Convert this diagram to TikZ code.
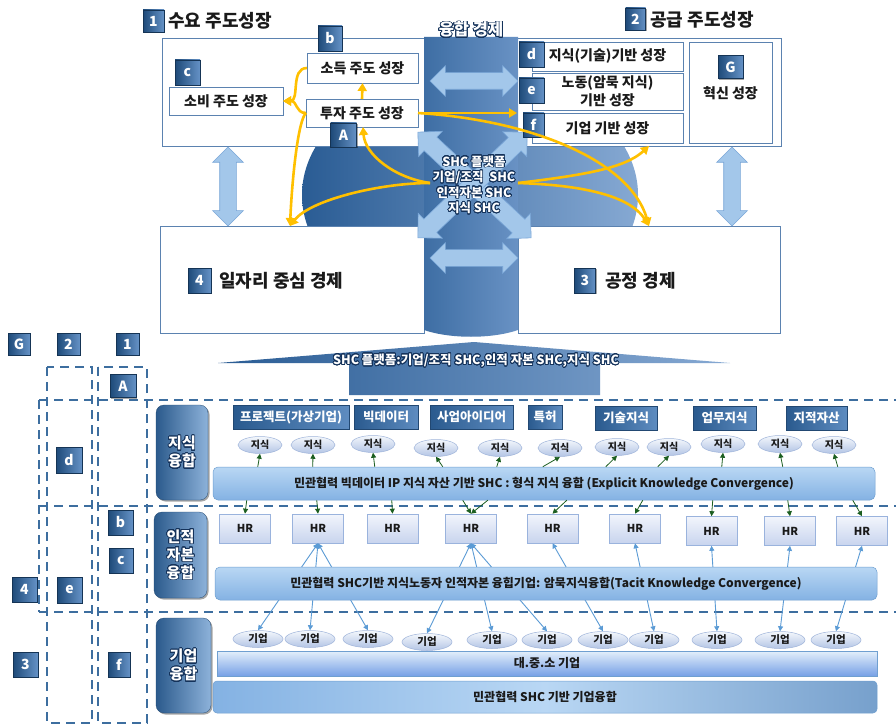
\documentclass[tikz,border=0pt]{standalone}
\usepackage{fontspec}
\setmainfont{Noto Sans CJK KR}
\usepackage{contour}
\contourlength{0.75pt}
\contournumber{32}
\usetikzlibrary{shapes.arrows,shapes.geometric,arrows.meta,shadows}
\definecolor{boxc}{HTML}{5B82B0}
\definecolor{bdark}{HTML}{1E4A79}
\definecolor{blight}{HTML}{6592C6}
\definecolor{cdark}{HTML}{14325A}
\definecolor{elL}{HTML}{2A5C94}
\definecolor{elR}{HTML}{86A9D3}
\definecolor{colL}{HTML}{3E6EA4}
\definecolor{colR}{HTML}{6992C4}
\definecolor{lbf}{HTML}{A3C7EA}
\definecolor{lbd}{HTML}{7AA7D8}
\definecolor{yel}{HTML}{FFC000}
\definecolor{dshc}{HTML}{3D6E9F}
\definecolor{grn}{HTML}{1B5E20}
\definecolor{hrb}{HTML}{5B9BD5}
\definecolor{hrT}{HTML}{F2F5FC}
\definecolor{hrB}{HTML}{C8D4EE}
\definecolor{hrD}{HTML}{9AB3DD}
\definecolor{elT}{HTML}{F4F7FC}
\definecolor{elB}{HTML}{B3C5E5}
\definecolor{elD}{HTML}{9FB4DA}
\definecolor{barT}{HTML}{B9D7F4}
\definecolor{barB}{HTML}{84B2E3}
\definecolor{barD}{HTML}{6F9FD0}
\definecolor{rlL}{HTML}{2B5A8C}
\definecolor{rlR}{HTML}{8DB2DA}
\definecolor{tbL}{HTML}{2A5A8E}
\definecolor{tbR}{HTML}{5E8CC0}
\definecolor{txt}{HTML}{1A1A1A}
\newcommand\fsz[1]{\fontsize{#1}{#1}\selectfont}
\newcommand\wt[1]{\contour{cdark}{#1}}
\begin{document}
\begin{tikzpicture}[x=1pt,y=-1pt,
 box/.style={draw=boxc,line width=0.8pt,fill=white,inner sep=0pt,outer sep=0pt,align=center,text=txt},
 badge/.style={rectangle,inner sep=0pt,outer sep=0pt,minimum width=24pt,minimum height=24pt,left color=bdark,right color=blight,draw=bdark!70!black,line width=0.3pt,text=white,font=\bfseries\fsz{14},drop shadow={shadow xshift=1.3pt,shadow yshift=-1.3pt,opacity=0.35,fill=black}},
 lbarrow/.style={double arrow,fill=lbf,draw=lbd,line width=0.6pt,inner sep=8pt,double arrow head extend=7pt,minimum width=30pt,outer sep=0pt},
 lbdiag/.style={double arrow,fill=lbf,draw=lbd,line width=0.6pt,inner sep=9pt,double arrow head extend=8pt,minimum width=34pt,outer sep=0pt},
 yarrow/.style={draw=yel,line width=2.6pt,-{Triangle[width=9pt,length=8pt]}},
 dashline/.style={draw=dshc,line width=2.6pt,dash pattern=on 9pt off 6pt},
 rowlabel/.style={rectangle,rounded corners=8pt,inner sep=0pt,left color=rlL,right color=rlR,draw=rlL!80!black,line width=0.3pt,text=white,align=center,font=\bfseries\fontsize{15}{18}\selectfont,drop shadow={shadow xshift=1.5pt,shadow yshift=-1.5pt,opacity=0.35,fill=black}},
 titlebox/.style={rectangle,inner sep=0pt,minimum height=24pt,left color=tbL,right color=tbR,draw=tbL!80!black,line width=0.3pt,text=white,font=\bfseries\fsz{12.5},drop shadow={shadow xshift=1.3pt,shadow yshift=-1.3pt,opacity=0.3,fill=black}},
 kell/.style={ellipse,inner sep=0pt,minimum width=44pt,minimum height=17pt,top color=elT,bottom color=elB,draw=elD,line width=0.5pt,text=txt,font=\bfseries\fsz{10}},
 gell/.style={ellipse,inner sep=0pt,minimum width=50pt,minimum height=17pt,top color=elT,bottom color=elB,draw=elD,line width=0.5pt,text=txt,font=\bfseries\fsz{10.5}},
 hrbox/.style={rectangle,inner sep=0pt,minimum width=51pt,minimum height=29pt,top color=hrT,bottom color=hrB,draw=hrD,line width=0.6pt,text=txt,font=\bfseries\fsz{11}},
 bigbar/.style={rectangle,rounded corners=5pt,inner sep=0pt,minimum width=662pt,minimum height=33pt,top color=barT,bottom color=barB,draw=barD,line width=0.5pt,text=txt,font=\bfseries\fsz{12}},
 garrow/.style={draw=grn,line width=0.8pt,-{Triangle[width=5pt,length=5pt]}},
 barrow/.style={draw=hrb,line width=0.9pt,{Triangle[width=5pt,length=5pt]}-{Triangle[width=5pt,length=5pt]}}
]
\useasboundingbox (0,0) rectangle (896,727);
\fill[white] (0,0) rectangle (896,727);

% ---------- top part ----------
\shade[left color=elL,right color=elR] (470,195) ellipse [x radius=168,y radius=122];
\node[box,minimum width=262,minimum height=108] (tl) at (293,92) {};
\node[box,minimum width=264,minimum height=108] (tr) at (649,92) {};
\node[box,minimum width=264,minimum height=107] (bl) at (292,279.5) {};
\node[box,minimum width=262,minimum height=107] (br) at (649,279.5) {};
\shade[left color=colL,right color=colR] (424,37) -- (518,37) -- (518,330) .. controls (492,339) and (450,339) .. (424,330) -- cycle;

% light blue arrows
\node[lbarrow,minimum height=79pt,rotate=90] (va1) at (228,186.5) {};
\node[lbarrow,minimum height=79pt,rotate=90] (va2) at (732,186.5) {};
\node[lbarrow,minimum height=88pt] (ha1) at (474,81) {};
\node[lbarrow,minimum height=88pt] (ha2) at (474,258) {};
\node[lbdiag,minimum height=155pt,rotate=-43] (da1) at (474.5,185) {};
\node[lbdiag,minimum height=152pt,rotate=44] (da2) at (472.5,185) {};

% titles
\node[badge,minimum width=21pt,minimum height=22pt] (n1) at (153.5,21) {1};
\node[anchor=west,inner sep=0pt,font=\bfseries\fsz{18},text=txt] (t1) at (168,21) {수요 주도성장};
\node[badge,minimum width=20pt,minimum height=22pt] (n2) at (635.5,19) {2};
\node[anchor=west,inner sep=0pt,font=\bfseries\fsz{18},text=txt] (t2) at (650,20) {공급 주도성장};
\node[inner sep=0pt,font=\bfseries\fsz{16.5},text=white] (yh) at (471,30) {\wt{융합 경제}};

% left top inner boxes
\node[box,minimum width=111,minimum height=30,font=\bfseries\fsz{14}] (sod) at (362.5,68) {소득 주도 성장};
\node[box,minimum width=114,minimum height=28,font=\bfseries\fsz{14}] (sobi) at (226,101) {소비 주도 성장};
\node[box,minimum width=112,minimum height=28,font=\bfseries\fsz{14}] (tuja) at (362,113) {투자 주도 성장};
\node[badge,minimum width=24pt,minimum height=25pt] (nb) at (330,38.5) {b};
\node[badge,minimum width=25pt,minimum height=25pt] (nc) at (187.5,72.5) {c};
\node[badge,minimum width=26pt,minimum height=24pt] (nA) at (343.5,135) {A};

% right top inner boxes
\node[box,minimum width=151,minimum height=29,font=\bfseries\fsz{14}] (jis) at (607.5,56.5) {지식(기술)기반 성장};
\node[box,minimum width=151,minimum height=37,font=\bfseries\fontsize{14}{18}\selectfont] (nod) at (607.5,91.5) {노동(암묵 지식)\\기반 성장};
\node[box,minimum width=151,minimum height=30,font=\bfseries\fsz{14}] (gib) at (607.5,128) {기업 기반 성장};
\node[box,minimum width=83,minimum height=101] (hyb) at (730.5,92.5) {};
\node[inner sep=0pt,font=\bfseries\fsz{14},text=txt] (hyt) at (730.5,93) {혁신 성장};
\node[badge,minimum width=25pt,minimum height=25pt] (nd) at (531.5,54.5) {d};
\node[badge,minimum width=25pt,minimum height=25pt] (ne) at (531.5,90.5) {e};
\node[badge,minimum width=21pt,minimum height=24pt] (nf) at (533.5,125) {f};
\node[badge,minimum width=25pt,minimum height=23pt] (nG) at (730.5,67) {G};

% bottom labels
\node[badge,minimum width=23pt,minimum height=25pt] (n4) at (199.5,280.5) {4};
\node[anchor=west,inner sep=0pt,font=\bfseries\fsz{18},text=txt] (t4) at (219,281) {일자리 중심 경제};
\node[badge,minimum width=21pt,minimum height=25pt] (n3) at (585,280.5) {3};
\node[anchor=west,inner sep=0pt,font=\bfseries\fsz{18},text=txt] (t3) at (605,281) {공정 경제};

% yellow arrows
\coordinate (cl) at (430,183);
\coordinate (cr) at (518,183);
\draw[yarrow] (sod.west) .. controls (290,68) and (300,101) .. (sobi.east);
\draw[yarrow] (tuja.west) .. controls (295,113) and (298,101) .. (sobi.east);
\draw[yarrow] (tuja.west) .. controls (298,120) and (292,180) .. ([xshift=-2pt]bl.north);
\draw[yarrow] (cl) .. controls (380,183) and (310,200) .. ([xshift=-2pt]bl.north);
\draw[yarrow] (cl) .. controls (395,178) and (365,155) .. ([xshift=1pt]tuja.south);
\draw[yarrow] (tuja.north) -- (sod.south);
\draw[yarrow] (tuja.east) -- (tuja.east -| tr.west);
\draw[yarrow] (tuja.east) .. controls (530,120) and (630,160) .. (br.north);
\draw[yarrow] (cr) .. controls (580,185) and (630,195) .. (br.north);
\draw[yarrow] (cr) .. controls (585,175) and (625,168) .. (tr.south);

\node[inner sep=0pt,align=center,text=white,font=\bfseries\fontsize{12.5}{15.5}\selectfont] (ctr) at (474,185)
  {\wt{SHC 플랫폼}\\\wt{기업/조직~ SHC}\\\wt{인적자본 SHC}\\\wt{지식 SHC}};

% banner
\shade[left color=elL,right color=elR] (218,363) -- (474,342) -- (730,363) -- (600,363) -- (600,395) -- (349,395) -- (349,363) -- cycle;
\node[inner sep=0pt,text=white,font=\bfseries\fsz{12.5}] (ban) at (476,361) {\wt{SHC 플랫폼:기업/조직 SHC,인적 자본 SHC,지식 SHC}};

% ---------- lower part ----------
\draw[dashline] (47,367) rectangle (92,723);
\draw[dashline] (98,367) rectangle (147,723);
\draw[dashline] (39,400) -- (896,400);
\draw[dashline] (39,506) -- (896,506);
\draw[dashline] (39,612) -- (896,612);
\draw[dashline] (39,400) -- (39,612);

\node[badge,minimum width=22pt,minimum height=22pt] (lG) at (19,344) {G};
\node[badge,minimum width=23pt,minimum height=22pt] (l2) at (68.5,344) {2};
\node[badge,minimum width=23pt,minimum height=22pt] (l1) at (127.5,344) {1};
\node[badge,minimum width=26pt,minimum height=23pt] (lA) at (123,386) {A};
\node[badge,minimum width=26pt,minimum height=26pt] (ld) at (69,460) {d};
\node[badge,minimum width=25pt,minimum height=25pt] (lb) at (120.5,522.5) {b};
\node[badge,minimum width=24pt,minimum height=25pt] (lc) at (121,560.5) {c};
\node[badge,minimum width=25pt,minimum height=25pt] (l4) at (24.5,589.5) {4};
\node[badge,minimum width=25pt,minimum height=26pt] (le) at (69.5,590) {e};
\node[badge,minimum width=25pt,minimum height=25pt] (l3) at (25.5,664.5) {3};
\node[badge,minimum width=22pt,minimum height=25pt] (lf) at (119,664.5) {f};

\node[rowlabel,minimum width=52pt,minimum height=95pt] (r1) at (182,452.5) {\wt{지식}\\\wt{융합}};
\node[rowlabel,minimum width=53pt,minimum height=86pt] (r2) at (180.5,555) {\wt{인적}\\\wt{자본}\\\wt{융합}};
\node[rowlabel,minimum width=55pt,minimum height=95pt] (r3) at (183.5,665.5) {\wt{기업}\\\wt{융합}};

\node[titlebox,minimum width=116pt] (tb1) at (291,417) {프로젝트(가상기업)};
\node[titlebox,minimum width=64pt] (tb2) at (386,417) {빅데이터};
\node[titlebox,minimum width=83pt] (tb3) at (471.5,417) {사업아이디어};
\node[titlebox,minimum width=34pt] (tb4) at (545,417) {특허};
\node[titlebox,minimum width=62pt] (tb5) at (626,418) {기술지식};
\node[titlebox,minimum width=63pt] (tb6) at (724.5,418) {업무지식};
\node[titlebox,minimum width=61pt] (tb7) at (816.5,418) {지적자산};

\foreach \i/\x/\y in {1/260/445,2/313/445,3/373/444,4/436/448,5/500/448,6/560/448,7/617/447,8/669/447,9/723/444,10/780/444,11/834/445}
  \node[kell] (k\i) at (\x,\y) {지식};

\node[bigbar] (kbar) at (544,483.5) {민관협력 빅데이터 IP 지식 자산 기반 SHC : 형식 지식 융합 (Explicit Knowledge Convergence)};

\foreach \i/\d in {1/45,2/100,3/162,4/230,5/284,6/330,7/393,8/445,9/509,10/570,11/625}
  \draw[garrow] ([xshift=\d pt]kbar.north west) -- (k\i.south);

\foreach \i/\x/\y in {1/245/528.5,2/318/528.5,3/392.5/528.5,4/471/528.5,5/552.5/528.5,6/635/528.5,7/711.5/531,8/790/531,9/862/531}
  \node[hrbox] (hr\i) at (\x,\y) {HR};

\foreach \i/\d in {1/34,2/104,3/179,4/250,4/275,5/354,6/430,7/500,8/575,9/640}
  \draw[garrow] ([xshift=\d pt]kbar.south west) -- (hr\i.north);

\foreach \i/\x/\y in {1/258/639,2/310/639,3/368/639,4/427/642,5/492/640,6/547/640,7/603/640,8/654/640,9/717/640,10/780/640,11/836/640}
  \node[gell] (g\i) at (\x,\y) {기업};

\foreach \a/\b in {2/1,2/2,2/3,4/4,4/5,4/6,5/7,6/8,7/9,8/10,9/11}
  \draw[barrow] (hr\a.south) -- (g\b.north);

\node[bigbar] (ebar) at (546,583.5) {민관협력 SHC기반 지식노동자 인적자본 융힙기업: 암묵지식융합(Tacit Knowledge Convergence)};

\node[rectangle,inner sep=0pt,minimum width=660pt,minimum height=25pt,top color=white!60!barT,bottom color=barB!90!blue,draw=barD,line width=0.6pt,text=txt,font=\bfseries\fsz{12}] (fbar1) at (547,663.5) {대.중.소 기업};
\node[rectangle,rounded corners=4pt,inner sep=0pt,minimum width=664pt,minimum height=32pt,left color=barB,right color=barB!90!black,middle color=barT,draw=barD,line width=0.5pt,text=txt,font=\bfseries\fsz{12}] (fbar2) at (545,697) {민관협력 SHC 기반 기업융합};
\end{tikzpicture}
\end{document}
